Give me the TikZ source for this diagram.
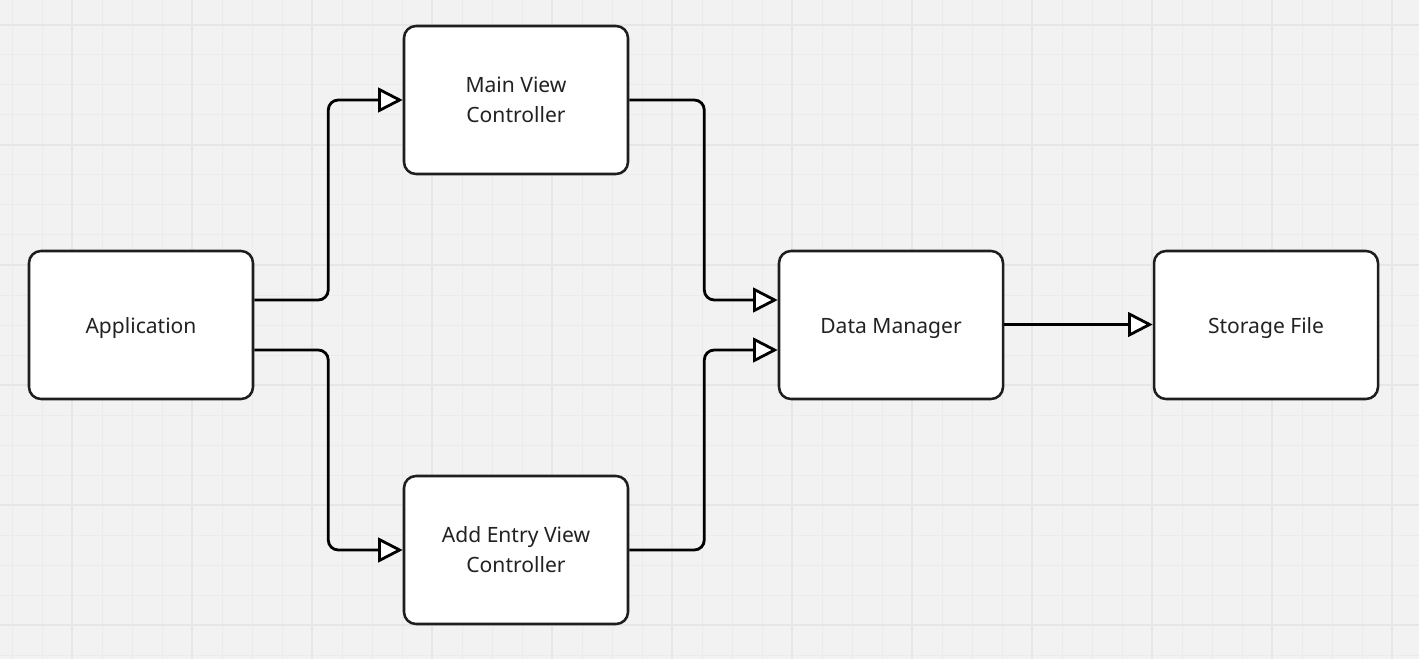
\documentclass[tikz,border=0pt]{standalone}
\usepackage{fontspec}
\setmainfont{Noto Sans}
\usetikzlibrary{arrows.meta,calc}
\definecolor{bg}{HTML}{F2F2F2}
\definecolor{gridminor}{HTML}{EBEBEB}
\definecolor{gridmajor}{HTML}{E6E6E6}
\definecolor{boxline}{HTML}{1E1E1E}
\definecolor{txt}{HTML}{222222}
\begin{document}
\begin{tikzpicture}[x=0.75pt,y=-0.75pt,
  box/.style={draw=boxline, line width=1.9pt, rounded corners=9pt, fill=white,
    minimum width=168pt, minimum height=111pt, align=center, text=txt,
    font=\fontsize{15.8}{22.5}\selectfont, inner sep=0pt},
  oneline/.style={text height=12pt, text depth=0pt},
  conn/.style={draw=black, line width=2.1pt, rounded corners=7.5pt,
    -{Triangle[length=18.5pt, width=18.5pt, fill=white, line join=miter]}},
  minorline/.style={draw=gridminor, line width=0.75pt},
  majorline/.style={draw=gridmajor, line width=1.5pt}]
\fill[bg] (0,0) rectangle (1419,659);
\useasboundingbox (0,0) rectangle (1419,659);
\foreach \x in {12,42,...,1419} \draw[minorline] (\x,0) -- (\x,659);
\foreach \y in {25,55,...,659} \draw[minorline] (0,\y) -- (1419,\y);
\foreach \x in {72,192,...,1419} \draw[majorline] (\x,0) -- (\x,659);
\foreach \y in {25,145,...,659} \draw[majorline] (0,\y) -- (1419,\y);

\node[box,oneline] (app) at (141,325) {Application};
\node[box] (mvc) at (516,100) {Main View\\Controller};
\node[box] (aevc) at (516,550) {Add Entry View\\Controller};
\node[box,oneline] (dm) at (891,325) {Data Manager};
\node[box,oneline] (sf) at (1266,325) {Storage File};

\draw[conn] ($(app.east)+(0,-25)$) -- ++(74,0) |- (mvc.west);
\draw[conn] ($(app.east)+(0,25)$) -- ++(74,0) |- (aevc.west);
\draw[conn] (mvc.east) -- ++(75,0) |- ($(dm.west)+(0,-25)$);
\draw[conn] (aevc.east) -- ++(75,0) |- ($(dm.west)+(0,25)$);
\draw[conn] ($(dm.east)+(0,-0.5)$) -- ($(sf.west)+(0,-0.5)$);
\end{tikzpicture}
\end{document}
